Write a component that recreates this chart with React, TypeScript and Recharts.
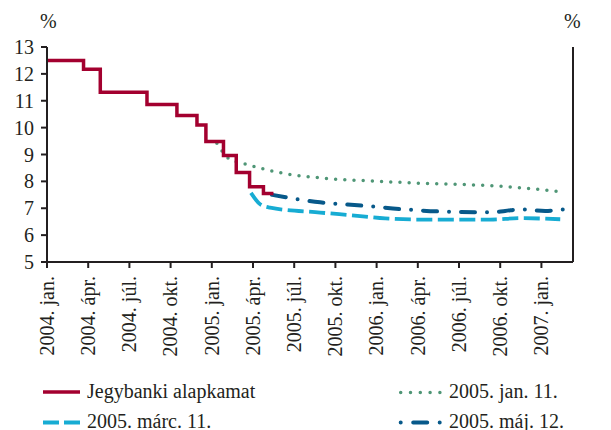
import React from 'react';
import { LineChart, Line, XAxis, YAxis } from 'recharts';

// months counted from 2004. jan. (0)
const tickMonths = [0, 3, 6, 9, 12, 15, 18, 21, 24, 27, 30, 33, 36];
const tickLabels = [
  '2004. jan.', '2004. ápr.', '2004. júl.', '2004. okt.',
  '2005. jan.', '2005. ápr.', '2005. júl.', '2005. okt.',
  '2006. jan.', '2006. ápr.', '2006. júl.', '2006. okt.',
  '2007. jan.',
];
const yTicks = [5, 6, 7, 8, 9, 10, 11, 12, 13];

// Jegybanki alapkamat (step line)
const baseMonths = [0, 2.66, 3.88, 7.28, 9.46, 10.92, 11.57, 12.85, 13.78, 14.75, 15.76, 16.49];
const baseValues = [12.5, 12.17, 11.32, 10.86, 10.45, 10.1, 9.48, 8.96, 8.33, 7.8, 7.55, 7.55];

// 2005. jan. 11.
const janMonths = [12.37, 13.29, 14.43, 15.76, 17.1, 19.89, 24.26, 27.17, 30.45, 32.27, 34.46, 37.37];
const janValues = [9.42, 8.83, 8.65, 8.46, 8.31, 8.13, 8.0, 7.93, 7.88, 7.84, 7.76, 7.62];

// 2005. márc. 11.
const marMonths = [14.85, 15.52, 16.25, 19.89, 22.8, 24.62, 27.17, 29.35, 32.27, 34.46, 37.37];
const marValues = [7.57, 7.15, 7.02, 6.84, 6.71, 6.62, 6.58, 6.58, 6.58, 6.63, 6.59];

// 2005. máj. 12.
const mayMonths = [16.38, 19.89, 23.17, 25.72, 28.63, 32.27, 33.36, 34.46, 36.28, 37.95];
const mayValues = [7.5, 7.22, 7.09, 6.97, 6.88, 6.85, 6.9, 6.96, 6.9, 6.98];

const toRows = (ms: number[], vs: number[]) => ms.map((m, i) => ({ m, v: vs[i] }));

const baseData = toRows(baseMonths, baseValues);
const janData = toRows(janMonths, janValues);
const marData = toRows(marMonths, marValues);
const mayData = toRows(mayMonths, mayValues);

const FONT = "'Liberation Serif', 'Times New Roman', Times, 'DejaVu Serif', serif";
const AXIS = '#231f20';
const RED = '#a3002f';
const GREEN = '#4f9676';
const CYAN = '#17acd3';
const NAVY = '#07598a';

function XTick({ x, y, payload }: any) {
  const idx = tickMonths.indexOf(payload.value);
  return (
    <text
      x={0}
      y={0}
      transform={`translate(${x},${y}) rotate(-90)`}
      textAnchor="end"
      dy="0.34em"
      style={{ fontFamily: FONT, fontSize: 20 }}
      fill={AXIS}
    >
      {tickLabels[idx]}
    </text>
  );
}

const tickStyle = { fontSize: 20, fill: AXIS, style: { fontFamily: FONT } };

export default function App() {
  return (
    <div
      style={{
        position: 'absolute', left: 0, top: 0, width: 611, height: 430,
        background: '#fff', fontFamily: FONT,
      }}
    >
      <LineChart width={611} height={370} margin={{ top: 47, right: 0, bottom: 8, left: 0 }}
        style={{ fontFamily: FONT }}>
        <XAxis
          dataKey="m"
          type="number"
          domain={[0, 38.3]}
          ticks={tickMonths}
          allowDataOverflow
          height={100}
          tickSize={6}
          tickMargin={8}
          tick={<XTick />}
          axisLine={{ stroke: AXIS, strokeWidth: 2 }}
          tickLine={{ stroke: AXIS, strokeWidth: 2 }}
          interval={0}
        />
        <YAxis
          yAxisId="l"
          type="number"
          domain={[5, 13]}
          ticks={yTicks}
          width={47}
          tickSize={6}
          tickMargin={7}
          tick={tickStyle}
          axisLine={{ stroke: AXIS, strokeWidth: 2 }}
          tickLine={{ stroke: AXIS, strokeWidth: 2 }}
          interval={0}
        />
        <YAxis
          yAxisId="r"
          orientation="right"
          type="number"
          domain={[5, 13]}
          ticks={yTicks}
          width={38}
          tickSize={5}
          tickMargin={2}
          tick={tickStyle}
          axisLine={{ stroke: AXIS, strokeWidth: 2 }}
          tickLine={{ stroke: AXIS, strokeWidth: 2 }}
          interval={0}
        />
        <Line
          yAxisId="l"
          data={janData}
          dataKey="v"
          type="monotone"
          stroke={GREEN}
          strokeWidth={3.5}
          strokeDasharray="0 9.2"
          strokeLinecap="round"
          dot={false}
          activeDot={false}
          isAnimationActive={false}
        />
        <Line
          yAxisId="l"
          data={marData}
          dataKey="v"
          type="monotone"
          stroke={CYAN}
          strokeWidth={3.8}
          strokeDasharray="16 5.5"
          dot={false}
          activeDot={false}
          isAnimationActive={false}
        />
        <Line
          yAxisId="l"
          data={mayData}
          dataKey="v"
          type="monotone"
          stroke={NAVY}
          strokeWidth={4}
          strokeDasharray="14 12 0 12"
          strokeLinecap="round"
          dot={false}
          activeDot={false}
          isAnimationActive={false}
        />
        <Line
          yAxisId="l"
          data={baseData}
          dataKey="v"
          type="stepAfter"
          stroke={RED}
          strokeWidth={3.5}
          dot={false}
          activeDot={false}
          isAnimationActive={false}
        />
      </LineChart>

      <svg
        width={611}
        height={430}
        style={{ position: 'absolute', left: 0, top: 0, pointerEvents: 'none', fontFamily: FONT, fontSize: 20 }}
        fill={AXIS}
      >
        <text x={40} y={28}>%</text>
        <text x={564} y={28}>%</text>

        <line x1={43} y1={392} x2={80} y2={392} stroke={RED} strokeWidth={3.5} />
        <text x={87} y={398}>Jegybanki alapkamat</text>

        <line x1={400.7} y1={392.5} x2={441} y2={392.5} stroke={GREEN} strokeWidth={3.5}
          strokeDasharray="0 9.8" strokeLinecap="round" />
        <text x={449} y={398}>2005. jan. 11.</text>

        <line x1={43} y1={422.5} x2={80} y2={422.5} stroke={CYAN} strokeWidth={3.8} strokeDasharray="16 5" />
        <text x={87} y={427.5}>2005. márc. 11.</text>

        <line x1={400.7} y1={422.5} x2={441} y2={422.5} stroke={NAVY} strokeWidth={4}
          strokeDasharray="0 12.5 14 12.5 0 100" strokeLinecap="round" />
        <text x={449} y={427.5}>2005. máj. 12.</text>
      </svg>
    </div>
  );
}
